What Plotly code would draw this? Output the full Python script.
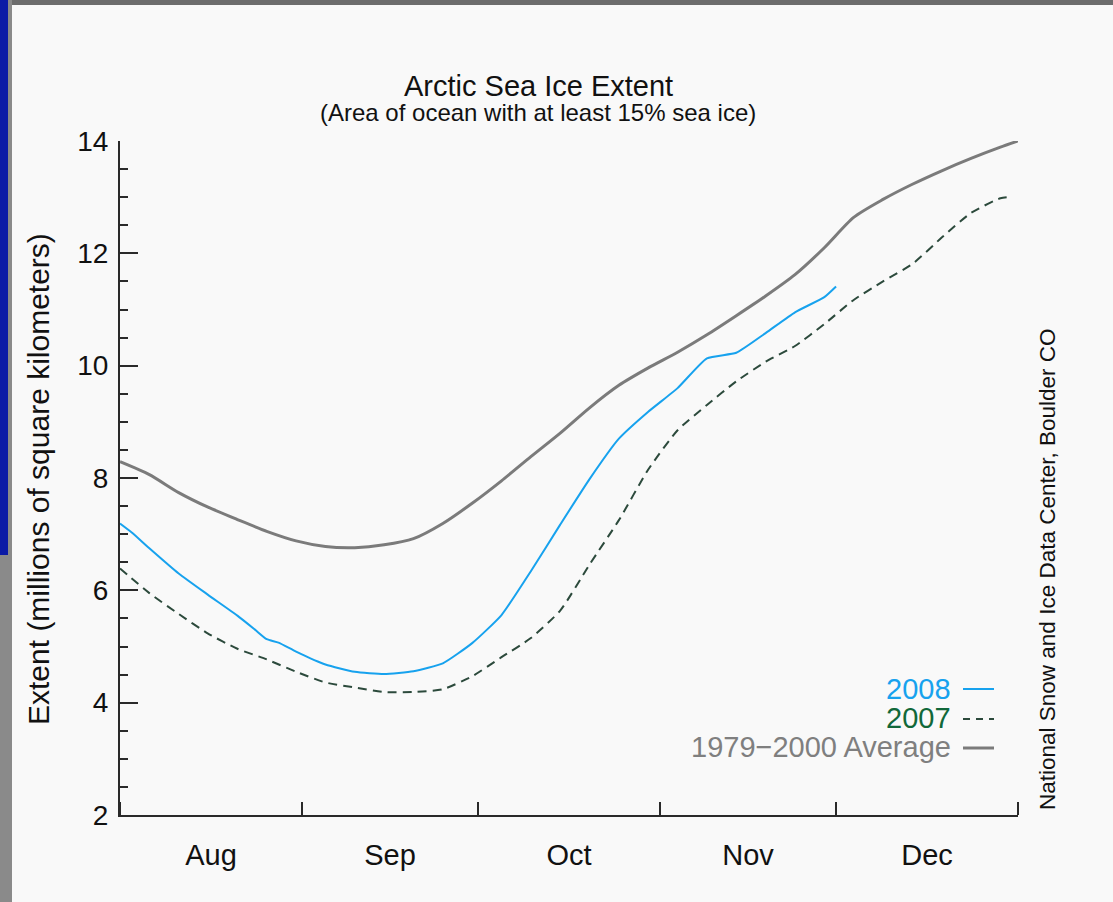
import plotly.graph_objects as go

# ---------------- data ----------------
avg_dates = ["2008-08-01", "2008-08-06", "2008-08-11", "2008-08-16", "2008-08-21", "2008-08-26",
             "2008-08-31", "2008-09-05", "2008-09-10", "2008-09-15", "2008-09-20", "2008-09-25",
             "2008-09-30", "2008-10-05", "2008-10-10", "2008-10-15", "2008-10-20", "2008-10-25",
             "2008-10-30", "2008-11-04", "2008-11-09", "2008-11-14", "2008-11-19", "2008-11-24",
             "2008-11-29", "2008-12-04", "2008-12-09", "2008-12-14", "2008-12-19", "2008-12-24",
             "2008-12-29", "2009-01-01"]
avg_vals = [8.29, 8.06, 7.74, 7.48, 7.26, 7.05,
            6.88, 6.78, 6.76, 6.81, 6.92, 7.19,
            7.55, 7.95, 8.38, 8.80, 9.25, 9.65,
            9.96, 10.24, 10.55, 10.89, 11.24, 11.62,
            12.10, 12.64, 12.96, 13.23, 13.47, 13.69,
            13.89, 14.00]

y2008_dates = ["2008-08-01", "2008-08-03", "2008-08-06", "2008-08-11", "2008-08-16", "2008-08-21",
               "2008-08-24", "2008-08-26", "2008-08-28", "2008-08-31", "2008-09-05", "2008-09-10",
               "2008-09-15", "2008-09-20", "2008-09-25", "2008-09-30", "2008-10-05", "2008-10-10",
               "2008-10-15", "2008-10-20", "2008-10-25", "2008-10-30", "2008-11-04", "2008-11-09",
               "2008-11-14", "2008-11-19", "2008-11-24", "2008-11-29", "2008-12-01"]
y2008_vals = [7.19, 7.03, 6.75, 6.30, 5.92, 5.55,
              5.30, 5.13, 5.07, 4.91, 4.68, 4.55,
              4.51, 4.56, 4.70, 5.06, 5.56, 6.34,
              7.17, 7.98, 8.70, 9.18, 9.60, 10.13,
              10.23, 10.58, 10.95, 11.22, 11.41]

y2007_dates = ["2008-08-01", "2008-08-06", "2008-08-11", "2008-08-16", "2008-08-21", "2008-08-26",
               "2008-08-31", "2008-09-05", "2008-09-10", "2008-09-15", "2008-09-20", "2008-09-25",
               "2008-09-30", "2008-10-05", "2008-10-10", "2008-10-15", "2008-10-20", "2008-10-25",
               "2008-10-30", "2008-11-04", "2008-11-09", "2008-11-14", "2008-11-19", "2008-11-24",
               "2008-11-29", "2008-12-04", "2008-12-09", "2008-12-14", "2008-12-19", "2008-12-24",
               "2008-12-29", "2008-12-31"]
y2007_vals = [6.39, 5.95, 5.58, 5.23, 4.96, 4.77,
              4.55, 4.36, 4.27, 4.19, 4.19, 4.24,
              4.47, 4.81, 5.15, 5.64, 6.46, 7.25,
              8.15, 8.85, 9.30, 9.72, 10.07, 10.35,
              10.74, 11.17, 11.50, 11.81, 12.28, 12.72,
              12.98, 13.01]

legend_labels = ["2008", "2007", "1979\u22122000 Average"]
title_text = "Arctic Sea Ice Extent"
subtitle_text = "(Area of ocean with at least 15% sea ice)"
ytitle_text = "Extent (millions of square kilometers)"
credit_text = "National Snow and Ice Data Center, Boulder CO"

# ---------------- style ----------------
C_AVG = "#7b7b7b"
C_2008 = "#17a2ee"
C_2007_LINE = "#2c4a3c"
C_2007_TEXT = "#11683a"
C_AVG_TEXT = "#7f7f7f"
FONT = "Liberation Sans, Arial, Helvetica, sans-serif"
AX = "#2a2a2a"

W, H = 1113, 902
L, R, T, B = 120, 95, 141, 87
PW, PH = W - L - R, H - T - B


def px(x):
    return (x - L) / PW


def py(y):
    return (H - B - y) / PH


fig = go.Figure()
fig.add_trace(go.Scatter(x=avg_dates, y=avg_vals, mode="lines",
                         line=dict(color=C_AVG, width=3, shape="spline", smoothing=0.7),
                         name=legend_labels[2], showlegend=False))
fig.add_trace(go.Scatter(x=y2007_dates, y=y2007_vals, mode="lines",
                         line=dict(color=C_2007_LINE, width=2, dash="9px,6px", shape="spline", smoothing=0.6),
                         name=legend_labels[1], showlegend=False))
fig.add_trace(go.Scatter(x=y2008_dates, y=y2008_vals, mode="lines",
                         line=dict(color=C_2008, width=2, shape="spline", smoothing=0.5),
                         name=legend_labels[0], showlegend=False))

annotations = [
    dict(text=title_text, x=px(538), y=py(86), xref="paper", yref="paper",
         showarrow=False, xanchor="center", yanchor="middle",
         font=dict(family=FONT, size=29, color="#111")),
    dict(text=subtitle_text, x=px(538), y=py(113), xref="paper", yref="paper",
         showarrow=False, xanchor="center", yanchor="middle",
         font=dict(family=FONT, size=24, color="#111")),
    dict(text=ytitle_text, x=px(38), y=py(479), xref="paper", yref="paper",
         showarrow=False, xanchor="center", yanchor="middle", textangle=-90,
         font=dict(family=FONT, size=30, color="#111")),
    dict(text=credit_text, x=px(1047), y=py(812), xref="paper", yref="paper",
         showarrow=False, xanchor="center", yanchor="bottom", textangle=-90,
         font=dict(family=FONT, size=22.5, color="#111")),
]
leg_colors = [C_2008, C_2007_TEXT, C_AVG_TEXT]
leg_y = [689, 718, 747]
for lab, col, yy in zip(legend_labels, leg_colors, leg_y):
    annotations.append(dict(text=lab, x=px(953), y=py(yy), xref="paper", yref="paper",
                            showarrow=False, xanchor="right", yanchor="middle",
                            font=dict(family=FONT, size=29, color=col)))

shapes = [
    # legend samples
    dict(type="line", xref="paper", yref="paper", x0=px(963), x1=px(994), y0=py(689), y1=py(689),
         line=dict(color=C_2008, width=2)),
    dict(type="line", xref="paper", yref="paper", x0=px(963), x1=px(994), y0=py(719), y1=py(719),
         line=dict(color=C_2007_LINE, width=2, dash="7px,6px")),
    dict(type="line", xref="paper", yref="paper", x0=px(963), x1=px(994), y0=py(748), y1=py(748),
         line=dict(color=C_AVG, width=3)),
    # screenshot frame
    dict(type="rect", xref="paper", yref="paper", x0=px(0), x1=px(W), y0=py(5), y1=py(0),
         fillcolor="#6d6d6d", line=dict(width=0), layer="above"),
    dict(type="rect", xref="paper", yref="paper", x0=px(0), x1=px(12), y0=py(H), y1=py(0),
         fillcolor="#8a8a8a", line=dict(width=0), layer="above"),
    dict(type="rect", xref="paper", yref="paper", x0=px(0), x1=px(8), y0=py(555), y1=py(0),
         fillcolor="#0b1aa6", line=dict(width=0), layer="above"),
]

fig.update_layout(
    width=W, height=H,
    margin=dict(l=L, r=R, t=T, b=B, pad=0),
    paper_bgcolor="#f9f9f9", plot_bgcolor="#f9f9f9",
    showlegend=False,
    annotations=annotations, shapes=shapes,
    font=dict(family=FONT, color="#111"),
    xaxis=dict(type="date", range=["2008-08-01", "2009-01-01"],
               tick0="2008-08-01", dtick="M1", tickformat="%b", ticklabelmode="period",
               ticks="inside", ticklen=13, tickwidth=2, tickcolor=AX,
               showline=True, linecolor=AX, linewidth=2,
               showgrid=False, zeroline=False,
               tickfont=dict(family=FONT, size=29, color="#111"), ticklabelstandoff=13),
    yaxis=dict(range=[2, 14], tick0=2, dtick=2,
               ticks="inside", ticklen=18, tickwidth=2, tickcolor=AX,
               minor=dict(dtick=0.5, ticks="inside", ticklen=8, tickwidth=2, tickcolor=AX),
               showline=True, linecolor=AX, linewidth=2,
               showgrid=False, zeroline=False,
               tickfont=dict(family=FONT, size=28, color="#111"), ticklabelstandoff=4),
)

fig.write_html("out.html")
